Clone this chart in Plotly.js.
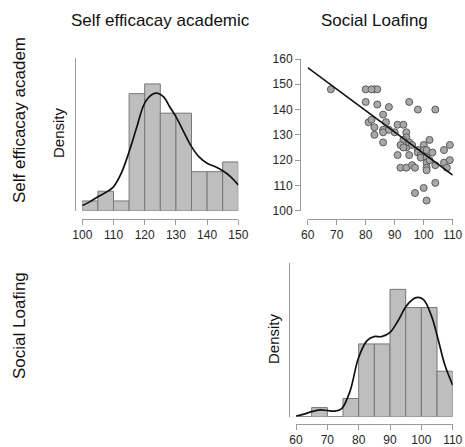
<!DOCTYPE html>
<html>
<head>
<meta charset="utf-8">
<script src="https://cdn.plot.ly/plotly-3.0.1.min.js"></script>
<style>html,body{margin:0;padding:0;background:#fff;}#chart{width:465px;height:447px;}</style>
</head>
<body>
<div id="chart"></div>
<script>
// ---- Data ----
// Histogram: Self efficacay academic (bins of width 5, 100..150)
const selfBinStarts = [100, 105, 110, 115, 120, 125, 130, 135, 140, 145];
const selfCounts    = [1, 2, 1, 12, 13, 10, 10, 4, 4, 5];
// Density curve (Self efficacay academic)
const selfDensX = [100, 102.5, 105, 107.5, 110, 112.5, 115, 117.5, 120, 122.5, 124, 126, 128, 130, 132.5, 135, 137.5, 140, 142.5, 145, 147.5, 150];
const selfDensY = [0.0017, 0.0030, 0.0046, 0.0060, 0.0079, 0.0124, 0.0195, 0.0278, 0.0356, 0.0385, 0.0389, 0.0377, 0.0344, 0.0311, 0.0261, 0.0212, 0.0177, 0.0157, 0.0146, 0.0132, 0.0113, 0.0085];

// Histogram: Social Loafing (bins of width 5, 60..110)
const loafBinStarts = [60, 65, 70, 75, 80, 85, 90, 95, 100, 105];
const loafCounts    = [0, 1, 0, 2, 8, 8, 14, 12, 12, 5];
// Density curve (Social Loafing)
const loafDensX = [60, 62.3, 65, 67.7, 70, 72.4, 74.6, 77.2, 79.9, 82.6, 84.9, 87.3, 90, 92.7, 95.3, 98.3, 100.6, 103.3, 105.4, 107.5, 110];
const loafDensY = [0.00025, 0.0008, 0.0018, 0.0024, 0.0022, 0.0020, 0.0029, 0.0089, 0.0207, 0.0269, 0.0284, 0.0284, 0.0299, 0.0343, 0.0394, 0.0422, 0.0416, 0.0355, 0.0272, 0.0183, 0.0112];

// Scatter: Social Loafing (x) vs Self efficacay academic (y)
const loafing = [68, 80, 80,
  83, 84, 84, 81, 82, 83, 83, 82,
  86, 87, 86, 86, 86, 88, 90, 88,
  91, 93, 94, 94, 93, 92, 94, 93, 95, 91, 92, 94, 95, 95,
  98, 96, 96, 97, 97, 98, 98, 99, 99, 100, 100, 100,
  104, 102, 101, 103, 101, 101, 101, 101, 102, 104, 101, 104,
  107, 107, 108, 109, 109];
const selfEff = [148, 148, 143,
  148, 148, 142, 135, 136, 133, 130, 148,
  138, 135, 132, 131, 127, 141, 131, 132,
  134, 134, 131, 129, 128, 126, 125, 125, 122, 122, 117, 117, 143, 127,
  140, 126, 118, 117, 107, 124, 123, 122, 121, 109, 126, 124,
  140, 128, 124, 123, 121, 119, 117, 116, 120, 118, 104, 111,
  124, 119, 117, 126, 120];
// Fitted regression line (at its ends)
const fitX = [60, 110];
const fitY = [156.6, 114.1];

const titles = ["Self efficacay academic", "Social Loafing"];
const rowLabels = ["Self efficacay academ", "Social Loafing"];
const selfTicks = [100, 110, 120, 130, 140, 150];
const loafTicks = [60, 70, 80, 90, 100, 110];
const scatterYTicks = [100, 110, 120, 130, 140, 150, 160];

// ---- Derived ----
const binW = 5;
function dens(counts) {
  const n = counts.reduce((a, b) => a + b, 0);
  return counts.map(c => c / (n * binW));
}
const centers = s => s.map(v => v + binW / 2);

// ---- Layout helpers ----
const W = 465, H = 447;
const px = v => v / W;
const py = v => 1 - v / H;

const axisCol = '#9a9a9a';
const tickFont = { family: 'Liberation Sans, Arial, sans-serif', size: 12, color: '#262626' };
const barStyle = { color: '#bebebe', line: { color: '#777777', width: 1 } };

const traces = [
  { type: 'bar', x: centers(selfBinStarts), y: dens(selfCounts), width: binW, marker: barStyle, xaxis: 'x', yaxis: 'y', hoverinfo: 'skip' },
  { type: 'scatter', mode: 'lines', x: selfDensX, y: selfDensY, line: { color: '#111', width: 1.7, shape: 'spline', smoothing: 1 }, xaxis: 'x', yaxis: 'y', cliponaxis: false },
  { type: 'scatter', mode: 'markers', x: loafing, y: selfEff, marker: { size: 7, color: '#a8a8a8', line: { color: '#5a5a5a', width: 1 } }, xaxis: 'x2', yaxis: 'y2', cliponaxis: false },
  { type: 'scatter', mode: 'lines', x: fitX, y: fitY, line: { color: '#111', width: 1.5 }, xaxis: 'x2', yaxis: 'y2', cliponaxis: false },
  { type: 'bar', x: centers(loafBinStarts), y: dens(loafCounts), width: binW, marker: barStyle, xaxis: 'x3', yaxis: 'y3', hoverinfo: 'skip' },
  { type: 'scatter', mode: 'lines', x: loafDensX, y: loafDensY, line: { color: '#111', width: 1.7, shape: 'spline', smoothing: 1 }, xaxis: 'x3', yaxis: 'y3', cliponaxis: false }
];

function xAx(dom, range, ticks, posY) {
  return { domain: dom, range: range, tickvals: ticks, ticktext: ticks.map(String), anchor: 'free', position: posY,
    showline: true, linecolor: axisCol, linewidth: 1, ticks: 'outside', ticklen: 5, tickcolor: axisCol, tickwidth: 1,
    showgrid: false, zeroline: false, tickfont: tickFont, fixedrange: true };
}
function yAxPlain(dom, range, posX) {
  return { domain: dom, range: range, anchor: 'free', position: posX, showline: true, linecolor: axisCol, linewidth: 1,
    ticks: '', showticklabels: false, showgrid: false, zeroline: false, fixedrange: true };
}

const layout = {
  width: W, height: H,
  margin: { l: 0, r: 0, t: 0, b: 0, pad: 0 },
  paper_bgcolor: '#fff', plot_bgcolor: 'rgba(0,0,0,0)',
  showlegend: false,
  font: { family: 'Liberation Sans, Arial, sans-serif' },
  xaxis: xAx([px(82.3), px(238.3)], [100, 150], selfTicks, py(219)),
  yaxis: yAxPlain([py(210.7), py(58)], [0, 0.0505], px(74.7)),
  xaxis2: xAx([px(307.7), px(452.7)], [60, 110], loafTicks, py(219)),
  yaxis2: { domain: [py(210.7), py(59)], range: [100, 160], anchor: 'free', position: px(300), tickvals: scatterYTicks,
    showline: true, linecolor: axisCol, linewidth: 1, ticks: 'outside', ticklen: 5, tickcolor: axisCol, tickwidth: 1,
    showgrid: false, zeroline: false, tickfont: tickFont, fixedrange: true },
  xaxis3: xAx([px(296), px(452.7)], [60, 110], loafTicks, py(423.5)),
  yaxis3: yAxPlain([py(416.7), py(263.3)], [0, 0.0544], px(289.3)),
  annotations: [
    { text: titles[0], x: px(160.5), y: py(20), xref: 'paper', yref: 'paper', showarrow: false, xanchor: 'center', yanchor: 'middle', font: { size: 17, color: '#111' } },
    { text: titles[1], x: px(374), y: py(20), xref: 'paper', yref: 'paper', showarrow: false, xanchor: 'center', yanchor: 'middle', font: { size: 17, color: '#111' } },
    { text: rowLabels[0], x: px(19), y: py(205), xref: 'paper', yref: 'paper', showarrow: false, textangle: -90, xanchor: 'center', yanchor: 'bottom', font: { size: 17, color: '#111' } },
    { text: rowLabels[1], x: px(19), y: py(326), xref: 'paper', yref: 'paper', showarrow: false, textangle: -90, xanchor: 'center', yanchor: 'middle', font: { size: 17, color: '#111' } },
    { text: 'Density', x: px(58), y: py(133), xref: 'paper', yref: 'paper', showarrow: false, textangle: -90, xanchor: 'center', yanchor: 'middle', font: { size: 15, color: '#111' } },
    { text: 'Density', x: px(273), y: py(339), xref: 'paper', yref: 'paper', showarrow: false, textangle: -90, xanchor: 'center', yanchor: 'middle', font: { size: 15, color: '#111' } }
  ]
};

Plotly.newPlot('chart', traces, layout, { staticPlot: true, displayModeBar: false });
</script>
</body>
</html>
